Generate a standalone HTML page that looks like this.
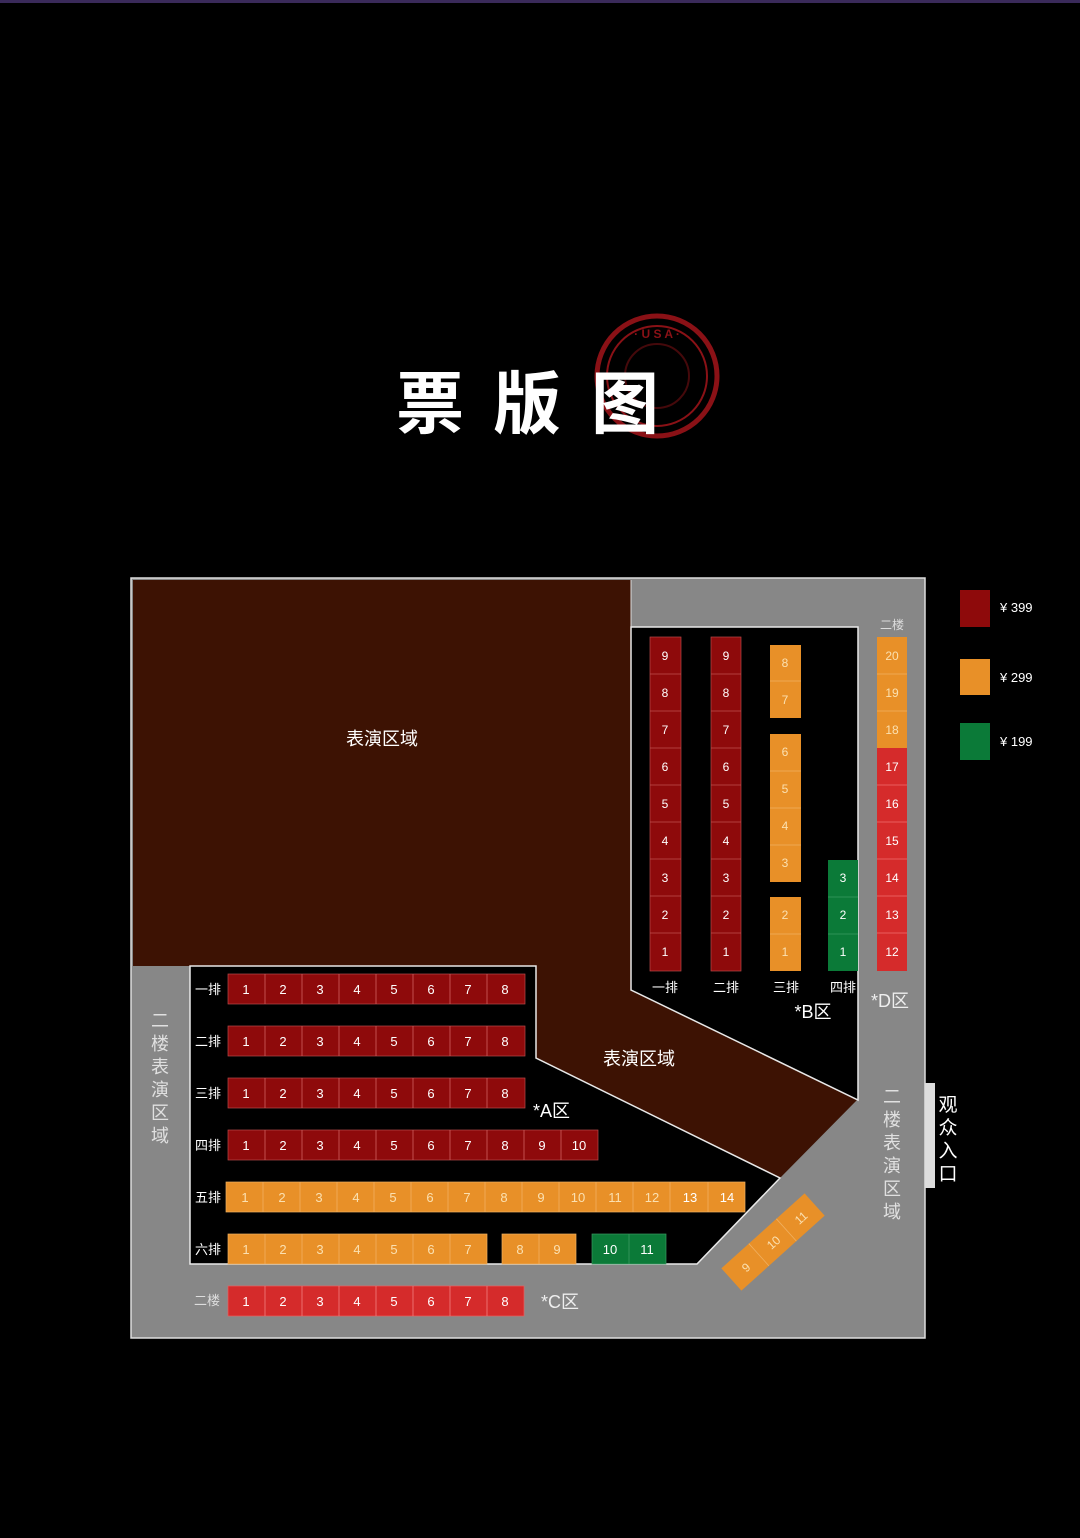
<!DOCTYPE html>
<html><head><meta charset="utf-8"><style>
html,body{margin:0;padding:0;background:#000;}
svg{display:block}
text{font-family:"Liberation Sans","Noto Sans CJK SC",sans-serif;}
</style></head><body>
<svg width="1080" height="1538" viewBox="0 0 1080 1538" xmlns="http://www.w3.org/2000/svg">
<rect width="1080" height="1538" fill="#000"/>
<rect x="0" y="0" width="1080" height="3" fill="#3a2a5a"/>
<!-- stamp -->
<g fill="none" stroke="#8a1116">
<circle cx="657" cy="376" r="60" stroke-width="5"/>
<circle cx="657" cy="376" r="50" stroke-width="2"/>
<circle cx="657" cy="376" r="32" stroke-width="2" opacity="0.5"/>
</g>
<text x="657" y="338" fill="#8a1116" font-size="12" font-weight="bold" text-anchor="middle" font-family="Liberation Serif,serif">· U S A ·</text>
<!-- title -->
<g fill="#fff" font-size="68" font-weight="bold" style="font-family:'Noto Sans CJK SC',sans-serif">
<text x="430" y="428" text-anchor="middle">票</text>
<text x="527" y="428" text-anchor="middle">版</text>
<text x="625" y="428" text-anchor="middle">图</text>
</g>
<!-- outer gray -->
<rect x="131" y="578" width="794" height="760" fill="#878787" stroke="#ddd" stroke-width="1.5"/>
<!-- stage brown -->
<polygon points="133,580 631,580 631,990 857,1100 780,1178 536,1058 536,966 133,966" fill="#3d1203"/>
<!-- black A -->
<polygon points="190,966 536,966 536,1058 780,1178 697,1264 190,1264" fill="#000" stroke="#e8e8e8" stroke-width="1.5"/>
<!-- black B -->
<polygon points="631,627 858,627 858,1100 631,990" fill="#000" stroke="#e8e8e8" stroke-width="1.5"/>
<line x1="631" y1="580" x2="631" y2="627" stroke="#ddd" stroke-width="1"/>
<!-- stage labels -->
<g fill="#fff" font-size="18">
<text x="382" y="745" text-anchor="middle">表演区域</text>
<text x="639" y="1065" text-anchor="middle">表演区域</text>
</g>
<!-- A seats -->
<g id="seats" stroke="#c96060" stroke-width="0.6" font-size="13">
</g>
<g font-size="13" fill="#fff" text-anchor="middle">
<!-- rows generated statically -->
</g>
<g stroke-width="0.7">
<!-- Row1-3 red 8 seats -->
<g fill="#8e0a0b" stroke="#b84a4a">
<rect x="228" y="974" width="297" height="30"/>
<rect x="228" y="1026" width="297" height="30"/>
<rect x="228" y="1078" width="297" height="30"/>
<rect x="228" y="1130" width="370" height="30"/>
</g>
<g fill="#e89028" stroke="#f0b060">
<rect x="226" y="1182" width="519" height="30"/>
<rect x="228" y="1234" width="259" height="30"/>
<rect x="502" y="1234" width="74" height="30"/>
</g>
<rect x="592" y="1234" width="74" height="30" fill="#0b7a38" stroke="#3a9a60"/>
<rect x="228" y="1286" width="296" height="30" fill="#d52b2b" stroke="#e86060"/>
</g>
<g stroke="#d06060" stroke-width="0.8">
<path d="M265 974v30M302 974v30M339 974v30M376 974v30M413 974v30M450 974v30M487 974v30"/>
<path d="M265 1026v30M302 1026v30M339 1026v30M376 1026v30M413 1026v30M450 1026v30M487 1026v30"/>
<path d="M265 1078v30M302 1078v30M339 1078v30M376 1078v30M413 1078v30M450 1078v30M487 1078v30"/>
<path d="M265 1130v30M302 1130v30M339 1130v30M376 1130v30M413 1130v30M450 1130v30M487 1130v30M524 1130v30M561 1130v30"/>
<path d="M265 1286v30M302 1286v30M339 1286v30M376 1286v30M413 1286v30M450 1286v30M487 1286v30" stroke="#f08080"/>
</g>
<g stroke="#f0b060" stroke-width="0.8">
<path d="M263 1182v30M300 1182v30M337 1182v30M374 1182v30M411 1182v30M448 1182v30M485 1182v30M522 1182v30M559 1182v30M596 1182v30M633 1182v30M670 1182v30M708 1182v30"/>
<path d="M265 1234v30M302 1234v30M339 1234v30M376 1234v30M413 1234v30M450 1234v30M539 1234v30"/>
<path d="M629 1234v30" stroke="#3a9a60"/>
</g>
<g fill="#fff" font-size="13" text-anchor="middle">
<text y="994"><tspan x="246">1</tspan><tspan x="283">2</tspan><tspan x="320">3</tspan><tspan x="357">4</tspan><tspan x="394">5</tspan><tspan x="431">6</tspan><tspan x="468">7</tspan><tspan x="505">8</tspan></text>
<text y="1046"><tspan x="246">1</tspan><tspan x="283">2</tspan><tspan x="320">3</tspan><tspan x="357">4</tspan><tspan x="394">5</tspan><tspan x="431">6</tspan><tspan x="468">7</tspan><tspan x="505">8</tspan></text>
<text y="1098"><tspan x="246">1</tspan><tspan x="283">2</tspan><tspan x="320">3</tspan><tspan x="357">4</tspan><tspan x="394">5</tspan><tspan x="431">6</tspan><tspan x="468">7</tspan><tspan x="505">8</tspan></text>
<text y="1150"><tspan x="246">1</tspan><tspan x="283">2</tspan><tspan x="320">3</tspan><tspan x="357">4</tspan><tspan x="394">5</tspan><tspan x="431">6</tspan><tspan x="468">7</tspan><tspan x="505">8</tspan><tspan x="542">9</tspan><tspan x="579">10</tspan></text>
<text y="1202" fill="#fbe0b0"><tspan x="245">1</tspan><tspan x="282">2</tspan><tspan x="319">3</tspan><tspan x="356">4</tspan><tspan x="393">5</tspan><tspan x="430">6</tspan><tspan x="467">7</tspan><tspan x="504">8</tspan><tspan x="541">9</tspan><tspan x="578">10</tspan><tspan x="615">11</tspan><tspan x="652">12</tspan><tspan x="690" fill="#fff">13</tspan><tspan x="727" fill="#fff">14</tspan></text>
<text y="1254" fill="#fbe0b0"><tspan x="246">1</tspan><tspan x="283">2</tspan><tspan x="320">3</tspan><tspan x="357">4</tspan><tspan x="394">5</tspan><tspan x="431">6</tspan><tspan x="468">7</tspan><tspan x="520">8</tspan><tspan x="557">9</tspan><tspan x="610" fill="#fff">10</tspan><tspan x="647" fill="#fff">11</tspan></text>
<text y="1306"><tspan x="246">1</tspan><tspan x="283">2</tspan><tspan x="320">3</tspan><tspan x="357">4</tspan><tspan x="394">5</tspan><tspan x="431">6</tspan><tspan x="468">7</tspan><tspan x="505">8</tspan></text>
</g>
<g fill="#fff" font-size="13" text-anchor="middle">
<text x="208" y="994">一排</text><text x="208" y="1046">二排</text><text x="208" y="1098">三排</text>
<text x="208" y="1150">四排</text><text x="208" y="1202">五排</text><text x="208" y="1254">六排</text>
<text x="207" y="1305" fill="#ddd">二楼</text>
</g>
<text x="533" y="1117" fill="#fff" font-size="18">*A区</text>
<text x="541" y="1308" fill="#eee" font-size="18">*C区</text>
<!-- diagonal seats -->
<g transform="translate(773,1242) rotate(-42)">
<rect x="-56" y="-15" width="112" height="30" fill="#e89028"/>
<path d="M-19 -15v30M18 -15v30" stroke="#f0b060" stroke-width="0.8"/>
<g fill="#fbe0b0" font-size="12" text-anchor="middle"><text x="-37" y="5">9</text><text x="0" y="5">10</text><text x="37" y="5">11</text></g>
</g>
<!-- B seats -->
<g stroke-width="0.7">
<rect x="650" y="637" width="31" height="334" fill="#8e0a0b" stroke="#b84a4a"/>
<rect x="711" y="637" width="30" height="334" fill="#8e0a0b" stroke="#b84a4a"/>
<rect x="770" y="645" width="31" height="73" fill="#e89028"/>
<rect x="770" y="734" width="31" height="148" fill="#e89028"/>
<rect x="770" y="897" width="31" height="74" fill="#e89028"/>
<rect x="828" y="860" width="30" height="111" fill="#0b7a38"/>
<rect x="877" y="637" width="30" height="111" fill="#e89028"/>
<rect x="877" y="748" width="30" height="223" fill="#d52b2b"/>
</g>
<g stroke-width="0.8">
<path d="M650 674h31M650 711h31M650 748h31M650 785h31M650 822h31M650 859h31M650 896h31M650 933h31M711 674h30M711 711h30M711 748h30M711 785h30M711 822h30M711 859h30M711 896h30M711 933h30" stroke="#c05050"/>
<path d="M770 681h31M770 771h31M770 808h31M770 845h31M770 934h31M877 674h30M877 711h30" stroke="#f0b060"/>
<path d="M828 897h30M828 934h30" stroke="#3a9a60"/>
<path d="M877 785h30M877 822h30M877 859h30M877 896h30M877 933h30" stroke="#f07070"/>
</g>
<g fill="#fff" font-size="12" text-anchor="middle">
<text x="665" y="660">9</text><text x="665" y="697">8</text><text x="665" y="734">7</text><text x="665" y="771">6</text><text x="665" y="808">5</text><text x="665" y="845">4</text><text x="665" y="882">3</text><text x="665" y="919">2</text><text x="665" y="956">1</text>
<text x="726" y="660">9</text><text x="726" y="697">8</text><text x="726" y="734">7</text><text x="726" y="771">6</text><text x="726" y="808">5</text><text x="726" y="845">4</text><text x="726" y="882">3</text><text x="726" y="919">2</text><text x="726" y="956">1</text>
<g fill="#fbe0b0"><text x="785" y="667">8</text><text x="785" y="704">7</text><text x="785" y="756">6</text><text x="785" y="793">5</text><text x="785" y="830">4</text><text x="785" y="867">3</text><text x="785" y="919">2</text><text x="785" y="956">1</text>
<text x="892" y="660">20</text><text x="892" y="697">19</text><text x="892" y="734">18</text></g>
<text x="843" y="882">3</text><text x="843" y="919">2</text><text x="843" y="956">1</text>
<text x="892" y="771">17</text><text x="892" y="808">16</text><text x="892" y="845">15</text><text x="892" y="882">14</text><text x="892" y="919">13</text><text x="892" y="956">12</text>
</g>
<g fill="#fff" font-size="13" text-anchor="middle">
<text x="665" y="992">一排</text><text x="726" y="992">二排</text><text x="786" y="992">三排</text><text x="843" y="992">四排</text>
<text x="892" y="629" fill="#ddd" font-size="12">二楼</text>
</g>
<text x="813" y="1018" fill="#fff" font-size="18" text-anchor="middle">*B区</text>
<text x="890" y="1007" fill="#eee" font-size="18" text-anchor="middle">*D区</text>
<!-- vertical labels -->
<g fill="#e0e0e0" font-size="18" text-anchor="middle">
<text x="160" y="1027">二</text><text x="160" y="1050">楼</text><text x="160" y="1073">表</text><text x="160" y="1096">演</text><text x="160" y="1119">区</text><text x="160" y="1142">域</text>
<text x="892" y="1103">二</text><text x="892" y="1126">楼</text><text x="892" y="1149">表</text><text x="892" y="1172">演</text><text x="892" y="1195">区</text><text x="892" y="1218">域</text>
</g>
<rect x="925" y="1083" width="10" height="105" fill="#ddd"/>
<g fill="#fff" font-size="19" text-anchor="middle">
<text x="948" y="1111">观</text><text x="948" y="1134">众</text><text x="948" y="1157">入</text><text x="948" y="1180">口</text>
</g>
<!-- legend -->
<rect x="960" y="590" width="30" height="37" fill="#8e0a0b"/>
<rect x="960" y="659" width="30" height="36" fill="#e89028"/>
<rect x="960" y="723" width="30" height="37" fill="#0b7a38"/>
<g fill="#fff" font-size="13"><text x="1000" y="612">¥ 399</text><text x="1000" y="682">¥ 299</text><text x="1000" y="746">¥ 199</text></g>
</svg>
</body></html>
